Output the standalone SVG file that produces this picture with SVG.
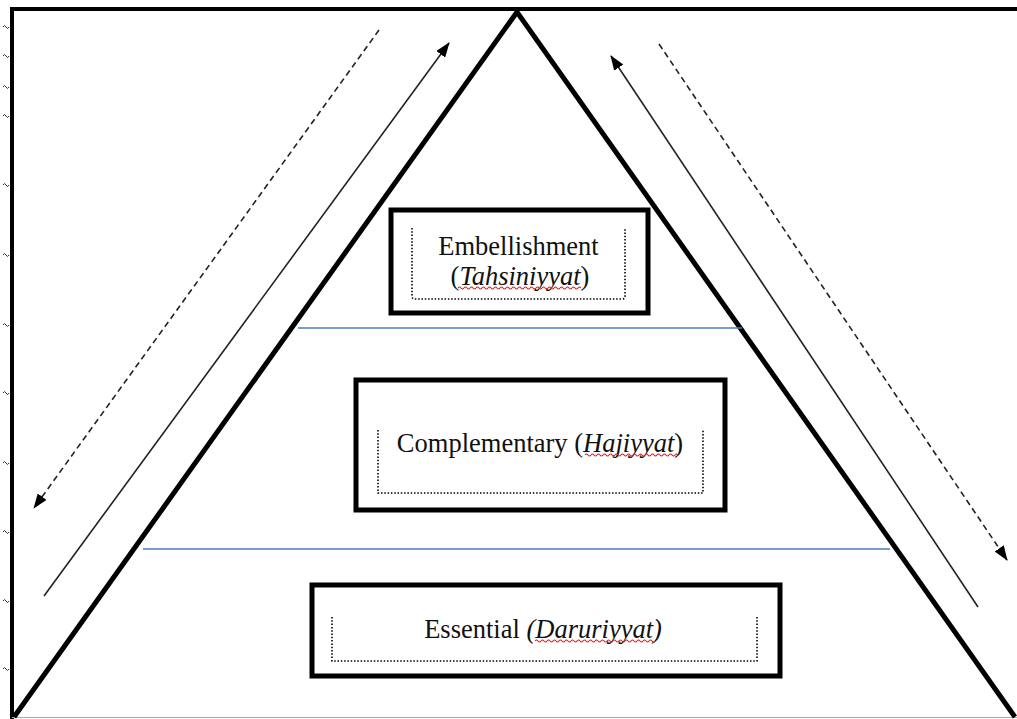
<svg xmlns="http://www.w3.org/2000/svg" width="1017" height="719" viewBox="0 0 1017 719">
<defs>
<marker id="ah" viewBox="0 0 15 11" refX="14" refY="5.5" markerWidth="15" markerHeight="11" markerUnits="userSpaceOnUse" orient="auto">
<path d="M0,0 L15,5.5 L0,11 Z" fill="#000"/>
</marker>
</defs>
<style>
.frame{fill:none;stroke:#000;stroke-width:4}
.tri{fill:none;stroke:#000;stroke-width:5;stroke-linejoin:miter}
.box{fill:#fff;stroke:#000;stroke-width:5}
.dot{fill:none;stroke:#000;stroke-width:1.6;stroke-dasharray:1.5 1.8}
.lbl{font-family:"Liberation Serif","Times New Roman",serif;font-size:26.5px;fill:#111;text-anchor:middle}
.it{font-style:italic}
.blue{stroke:#4a7ebb;stroke-width:1.3}
.solid{stroke:#222;stroke-width:1.6;fill:none}
.dash{stroke:#222;stroke-width:1.6;fill:none;stroke-dasharray:6 4}
.sq{fill:none;stroke:#e02020;stroke-width:1.1}
.tick{fill:none;stroke:#333;stroke-width:1}
</style>
<rect width="1017" height="719" fill="#fff"/>
<g id="frame">
<path class="frame" d="M12,719 L12,9 L1017,9"/>
<line x1="12" y1="717.5" x2="1017" y2="717.5" stroke="#aaa" stroke-width="1"/>
<g class="tick">
<path d="M3,27 q1.5,-3 3,0 t3,0"/>
<path d="M3,56 q1.5,-3 3,0 t3,0"/>
<path d="M3,87 q1.5,-3 3,0 t3,0"/>
<path d="M3,116 q1.5,-3 3,0 t3,0"/>
<path d="M3,185 q1.5,-3 3,0 t3,0"/>
<path d="M3,255 q1.5,-3 3,0 t3,0"/>
<path d="M3,325 q1.5,-3 3,0 t3,0"/>
<path d="M3,393 q1.5,-3 3,0 t3,0"/>
<path d="M3,463 q1.5,-3 3,0 t3,0"/>
<path d="M3,532 q1.5,-3 3,0 t3,0"/>
<path d="M3,601 q1.5,-3 3,0 t3,0"/>
<path d="M3,669 q1.5,-3 3,0 t3,0"/>
</g>
</g>
<g id="pyramid">
<path class="tri" d="M14,717 L517,12 L1015,717"/>
</g>
<g id="levels">
<line class="blue" x1="298" y1="328" x2="742" y2="328"/>
<line class="blue" x1="143" y1="549" x2="890" y2="549"/>
</g>
<g id="connectors">
<line class="dash" x1="379" y1="30" x2="34" y2="508" marker-end="url(#ah)"/>
<line class="solid" x1="44" y1="596" x2="449" y2="43" marker-end="url(#ah)"/>
<line class="solid" x1="978" y1="607" x2="611" y2="56" marker-end="url(#ah)"/>
<line class="dash" x1="659" y1="44" x2="1007" y2="560" marker-end="url(#ah)"/>
</g>
<g id="embellishment">
<rect class="box" x="391" y="210" width="257" height="103"/>
<path class="dot" d="M412,228 L412,296 Q412,299 415,299 L622,299 Q625,299 625,296 L625,228"/>
<text class="lbl" x="518.5" y="255">Embellishment</text>
<text class="lbl" x="520" y="285">(<tspan class="it">Tahsiniyyat</tspan>)</text>
<path class="sq" d="M458,288 q1.5,-2 3,0 t3,0 t3,0 t3,0 t3,0 t3,0 t3,0 t3,0 t3,0 t3,0 t3,0 t3,0 t3,0 t3,0 t3,0 t3,0 t3,0 t3,0 t3,0 t3,0 t3,0 t3,0 t3,0 t3,0 t3,0 t3,0 t3,0 t3,0 t3,0 t3,0 t3,0 t3,0 t3,0 t3,0 t3,0 t3,0 t3,0 t3,0 t3,0 t3,0 t3,0"/>
</g>
<g id="complementary">
<rect class="box" x="356" y="380" width="369" height="130"/>
<path class="dot" d="M378,430 L378,493 L703,493 L703,430"/>
<text class="lbl" x="540" y="452">Complementary (<tspan class="it">Hajiyyat</tspan>)</text>
<path class="sq" d="M585,455 q1.5,-2 3,0 t3,0 t3,0 t3,0 t3,0 t3,0 t3,0 t3,0 t3,0 t3,0 t3,0 t3,0 t3,0 t3,0 t3,0 t3,0 t3,0 t3,0 t3,0 t3,0 t3,0 t3,0 t3,0 t3,0 t3,0 t3,0 t3,0 t3,0 t3,0 t3,0 t3,0"/>
</g>
<g id="essential">
<rect class="box" x="312" y="585" width="468" height="91"/>
<path class="dot" d="M332,617 L332,661 L757,661 L757,617"/>
<text class="lbl" x="543" y="638">Essential <tspan class="it">(Daruriyyat)</tspan></text>
<path class="sq" d="M535,641 q1.5,-2 3,0 t3,0 t3,0 t3,0 t3,0 t3,0 t3,0 t3,0 t3,0 t3,0 t3,0 t3,0 t3,0 t3,0 t3,0 t3,0 t3,0 t3,0 t3,0 t3,0 t3,0 t3,0 t3,0 t3,0 t3,0 t3,0 t3,0 t3,0 t3,0 t3,0 t3,0 t3,0 t3,0 t3,0 t3,0 t3,0 t3,0 t3,0 t3,0 t3,0"/>
</g>
</svg>
